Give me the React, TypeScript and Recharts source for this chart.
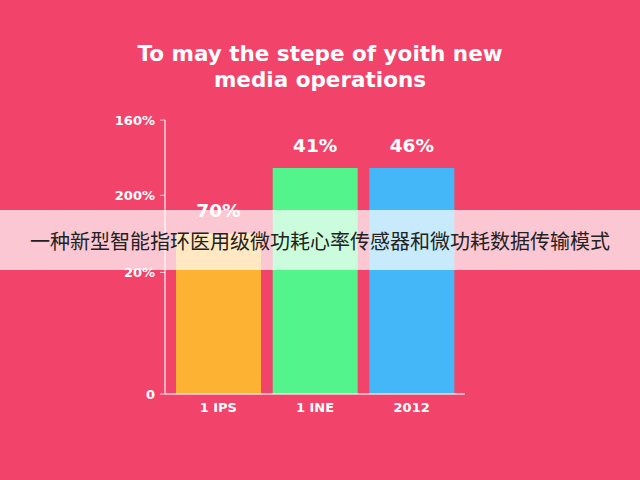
import React from 'react';
import { BarChart, Bar, XAxis, YAxis, LabelList, Cell } from 'recharts';

const categories = ['1 IPS', '1 INE', '2012'];
const values = [94, 132, 132];
const valueLabels = ['70%', '41%', '46%'];
const barColors = ['#FDB233', '#52F48B', '#43B7F8'];
const yTickValues = [0, 71, 116, 160];
const yTickLabels = ['0', '20%', '200%', '160%'];

const titleLines = ['To may the stepe of yoith new', 'media operations'];
const bannerText = '一种新型智能指环医用级微功耗心率传感器和微功耗数据传输模式';

const data = categories.map((name, i) => ({ name, value: values[i], label: valueLabels[i] }));

const BG = '#F2436A';
const AXIS = 'rgba(255,255,255,0.75)';
const FONT = '"DejaVu Sans", Verdana, sans-serif';

const App: React.FC = () => {
  return (
    <div style={{ position: 'absolute', left: 0, top: 0, width: 640, height: 480, background: BG, overflow: 'hidden' }}>
      <div
        style={{
          position: 'absolute',
          top: 41,
          left: 0,
          width: 640,
          textAlign: 'center',
          color: '#fff',
          fontFamily: FONT,
          fontWeight: 'bold',
          fontSize: 21.5,
          lineHeight: '26px'
        }}
      >
        {titleLines.map((t) => (
          <div key={t}>{t}</div>
        ))}
      </div>
      <BarChart
        width={640}
        height={480}
        data={data}
        margin={{ top: 120, right: 175, left: 0, bottom: 56 }}
      >
        <XAxis
          dataKey="name"
          padding={{ left: 5, right: 5 }}
          axisLine={{ stroke: AXIS, strokeWidth: 1.5 }}
          tickLine={false}
          tickMargin={3}
          tick={{ fill: '#fff', fontSize: 13, fontFamily: FONT, fontWeight: 'bold' }}
        />
        <YAxis
          width={165}
          domain={[0, 160]}
          ticks={yTickValues}
          interval={0}
          tickFormatter={(v: number) => yTickLabels[yTickValues.indexOf(v)] ?? ''}
          axisLine={{ stroke: AXIS, strokeWidth: 1.5 }}
          tickLine={{ stroke: AXIS }}
          tickSize={5}
          tickMargin={5}
          tick={{ fill: '#fff', fontSize: 13, fontFamily: FONT, fontWeight: 'bold' }}
        />
        <Bar dataKey="value" barSize={85} isAnimationActive={false}>
          {data.map((d, i) => (
            <Cell key={d.name} fill={barColors[i]} />
          ))}
          <LabelList
            dataKey="label"
            position="top"
            offset={16}
            fill="#fff"
            style={{ fontSize: 18.5, fontFamily: FONT, fontWeight: 'bold' }}
          />
        </Bar>
      </BarChart>
      <div
        style={{
          position: 'absolute',
          left: 0,
          top: 210,
          width: 640,
          height: 60,
          background: 'rgba(255,255,255,0.7)',
          display: 'flex',
          alignItems: 'center',
          justifyContent: 'center',
          fontFamily: '"Noto Sans CJK SC", sans-serif',
          fontSize: 20,
          color: '#222'
        }}
      >
        {bannerText}
      </div>
    </div>
  );
};

export default App;
